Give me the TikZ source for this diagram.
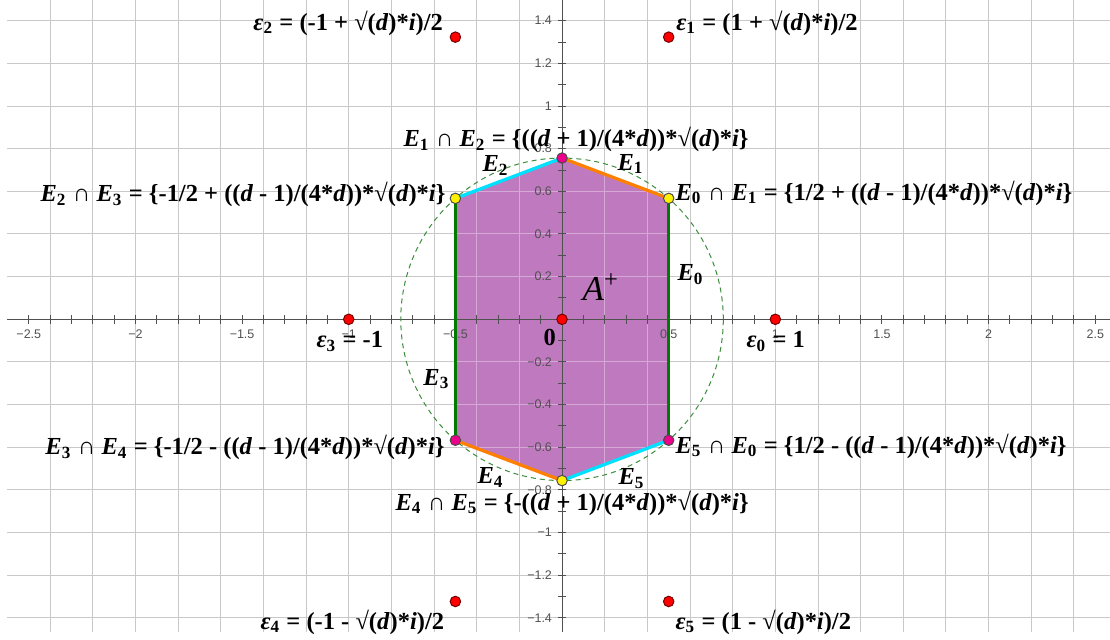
\documentclass[tikz,border=0pt]{standalone}
\usepackage{fontspec}
\setmainfont{Liberation Serif}
\newfontfamily\ticksans{Liberation Sans}

\definecolor{hexfill}{RGB}{191,122,191}
\definecolor{hexgrid}{RGB}{214,168,214}
\definecolor{edgegreen}{RGB}{0,122,0}
\definecolor{edgeorange}{RGB}{255,128,0}
\definecolor{edgecyan}{RGB}{0,225,255}
\definecolor{circgreen}{RGB}{60,140,60}
\definecolor{gridgray}{RGB}{200,200,200}
\definecolor{axisgray}{RGB}{80,80,80}

\newcommand{\vd}{\textit{d}}
\newcommand{\vi}{\textit{i}}
\newcommand{\Esub}[1]{\textit{E}\textsubscript{#1}}
\newcommand{\epsub}[1]{\textit{ε}\textsubscript{#1}}

\begin{document}
\begin{tikzpicture}[x=3cm, y=3cm,
    lab/.style={anchor=base west, inner sep=0pt, font=\fontsize{9.8}{11}\selectfont\bfseries},
    tick/.style={inner sep=0pt, text=axisgray, font=\ticksans\fontsize{5}{6}\selectfont},
    root/.style={circle, draw=red!45!black, fill=red, inner sep=0pt, minimum size=4.2pt},
    vtx/.style={circle, draw=black!70, inner sep=0pt, minimum size=4.2pt},
    edge/.style={line width=1.3pt}]
    \useasboundingbox (-2.635,-1.499) rectangle (2.569,1.497);

    % Grid
    \foreach \x in {-12,...,12}
        \draw[gridgray, line width=0.4pt] (\x/5,-1.467) -- (\x/5,1.497);
    \foreach \y in {-7,...,7}
        \draw[gridgray, line width=0.4pt] (-2.6,\y/5) -- (2.569,\y/5);

    % Hexagon corners
    \coordinate (O) at (0,0);
    \coordinate (P01) at (0.5,0.567);
    \coordinate (P12) at (0,0.756);
    \coordinate (P23) at (-0.5,0.567);
    \coordinate (P34) at (-0.5,-0.567);
    \coordinate (P45) at (0,-0.756);
    \coordinate (P50) at (0.5,-0.567);

    % Region A+
    \fill[hexfill] (P01) -- (P12) -- (P23) -- (P34) -- (P45) -- (P50) -- cycle;
    \begin{scope}
        \clip (P01) -- (P12) -- (P23) -- (P34) -- (P45) -- (P50) -- cycle;
        \foreach \x in {-12,...,12}
            \draw[hexgrid, line width=0.4pt] (\x/5,-1.467) -- (\x/5,1.497);
        \foreach \y in {-7,...,7}
            \draw[hexgrid, line width=0.4pt] (-2.6,\y/5) -- (2.569,\y/5);
    \end{scope}

    % Axes and ticks
    \draw[axisgray, line width=0.4pt] (-2.6,0) -- (2.569,0);
    \draw[axisgray, line width=0.4pt] (0,-1.467) -- (0,1.497);
    \foreach \x in {-25,...,25}
        \draw[axisgray, line width=0.4pt] (\x/10,-0.02) -- (\x/10,0.02);
    \foreach \y in {-14,...,14}
        \draw[axisgray, line width=0.4pt] (-0.02,\y/10) -- (0.02,\y/10);
    \foreach \x/\t [count=\i] in {-2.5/−2.5, -2/−2, -1.5/−1.5, -1/−1, -0.5/−0.5,
                                  0.5/0.5, 1/1, 1.5/1.5, 2/2, 2.5/2.5}
        \node[tick] (xl\i) at (\x,-0.07) {\t};
    \foreach \y/\t [count=\i] in {1.4/1.4, 1.2/1.2, 1/1, 0.8/0.8, 0.6/0.6, 0.4/0.4, 0.2/0.2,
                                  -0.2/−0.2, -0.4/−0.4, -0.6/−0.6, -0.8/−0.8, -1/−1, -1.2/−1.2, -1.4/−1.4}
        \node[tick, anchor=east] (yl\i) at (-0.045,\y) {\t};

    % Circle through the corners
    \draw[circgreen, line width=0.4pt, dash pattern=on 2pt off 1.6pt] (O) circle (0.756);

    % Edges
    \draw[edge, edgegreen] (P50) -- (P01);
    \draw[edge, edgeorange] (P01) -- (P12);
    \draw[edge, edgecyan] (P12) -- (P23);
    \draw[edge, edgegreen] (P23) -- (P34);
    \draw[edge, edgeorange] (P34) -- (P45);
    \draw[edge, edgecyan] (P45) -- (P50);

    % Roots of unity
    \node[root] (e0) at (1,0) {};
    \node[root] (e1) at (0.5,1.3229) {};
    \node[root] (e2) at (-0.5,1.3229) {};
    \node[root] (e3) at (-1,0) {};
    \node[root] (e4) at (-0.5,-1.3229) {};
    \node[root] (e5) at (0.5,-1.3229) {};
    \node[root] (z) at (O) {};

    % Corner points
    \node[vtx, fill=yellow] (v01) at (P01) {};
    \node[vtx, fill=magenta] (v12) at (P12) {};
    \node[vtx, fill=yellow] (v23) at (P23) {};
    \node[vtx, fill=magenta] (v34) at (P34) {};
    \node[vtx, fill=yellow] (v45) at (P45) {};
    \node[vtx, fill=magenta] (v50) at (P50) {};

    % Labels
    \node[lab] (le2) at (-1.449,1.356) {\epsub{2} = (-1 + √(\vd)*\vi)/2};
    \node[lab] (le1) at (0.534,1.356) {\epsub{1} = (1 + √(\vd)*\vi)/2};
    \node[lab] (le3) at (-1.153,-0.134) {\epsub{3} = -1};
    \node[lab] (le0) at (0.863,-0.134) {\epsub{0} = 1};
    \node[lab] (le4) at (-1.416,-1.452) {\epsub{4} = (-1 - √(\vd)*\vi)/2};
    \node[lab] (le5) at (0.530,-1.452) {\epsub{5} = (1 - √(\vd)*\vi)/2};
    \node[lab] (lz) at (-0.089,-0.125) {0};

    \node[lab] (l12) at (-0.745,0.809) {\Esub{1} ∩ \Esub{2} = \{((\vd{} + 1)/(4*\vd))*√(\vd)*\vi\}};
    \node[lab] (l23) at (-2.447,0.551) {\Esub{2} ∩ \Esub{3} = \{-1/2 + ((\vd{} - 1)/(4*\vd))*√(\vd)*\vi\}};
    \node[lab] (l01) at (0.530,0.559) {\Esub{0} ∩ \Esub{1} = \{1/2 + ((\vd{} - 1)/(4*\vd))*√(\vd)*\vi\}};
    \node[lab] (l34) at (-2.424,-0.636) {\Esub{3} ∩ \Esub{4} = \{-1/2 - ((\vd{} - 1)/(4*\vd))*√(\vd)*\vi\}};
    \node[lab] (l50) at (0.530,-0.627) {\Esub{5} ∩ \Esub{0} = \{1/2 - ((\vd{} - 1)/(4*\vd))*√(\vd)*\vi\}};
    \node[lab] (l45) at (-0.783,-0.894) {\Esub{4} ∩ \Esub{5} = \{-((\vd{} + 1)/(4*\vd))*√(\vd)*\vi\}};

    \node[lab] (lE0) at (0.539,0.180) {\Esub{0}};
    \node[lab] (lE1) at (0.258,0.700) {\Esub{1}};
    \node[lab] (lE2) at (-0.375,0.692) {\Esub{2}};
    \node[lab] (lE3) at (-0.652,-0.308) {\Esub{3}};
    \node[lab] (lE4) at (-0.398,-0.769) {\Esub{4}};
    \node[lab] (lE5) at (0.263,-0.774) {\Esub{5}};

    \node[anchor=base west, inner sep=0pt, font=\fontsize{14}{16}\selectfont] (lA) at (0.094,0.090) {\textit{A}\textsuperscript{+}};
\end{tikzpicture}
\end{document}
